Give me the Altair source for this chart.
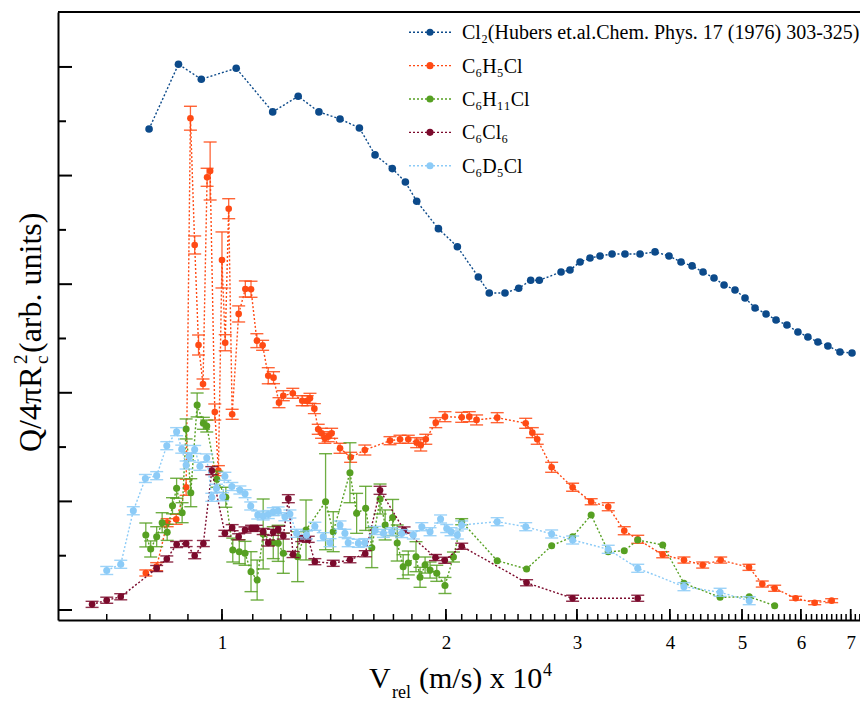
import altair as alt
import pandas as pd

# Relative velocity (x 10^4 m/s) and Q/4piRc^2 (arbitrary units) for each target.
CL2_V = [0.798, 0.874, 0.938, 1.045, 1.170, 1.266, 1.350, 1.441, 1.530, 1.606, 1.694, 1.764,
         1.827, 1.954, 2.072, 2.211, 2.287, 2.401, 2.505, 2.600, 2.670, 2.856, 2.936, 3.029,
         3.124, 3.222, 3.344, 3.481, 3.647, 3.820, 3.989, 4.140, 4.284, 4.432, 4.585, 4.730,
         4.893, 5.047, 5.206, 5.386, 5.555, 5.746, 5.945, 6.131, 6.324, 6.523, 6.771, 7.028]
CL2_Q = [4.429, 5.025, 4.887, 4.988, 4.586, 4.730, 4.586, 4.521, 4.438, 4.190, 4.064, 3.941,
         3.763, 3.511, 3.345, 3.066, 2.919, 2.919, 2.962, 3.036, 3.036, 3.112, 3.131, 3.204,
         3.241, 3.260, 3.278, 3.278, 3.278, 3.297, 3.260, 3.204, 3.168, 3.112, 3.057, 2.993,
         2.947, 2.873, 2.781, 2.726, 2.670, 2.624, 2.560, 2.514, 2.468, 2.431, 2.376, 2.366]

BZ_V = [0.790, 0.817, 0.844, 0.868, 0.895, 0.907, 0.919, 0.930, 0.943, 0.955, 0.964, 0.978,
        0.989, 1.000, 1.010, 1.021, 1.032, 1.053, 1.075, 1.094, 1.114, 1.134, 1.154, 1.173,
        1.193, 1.209, 1.245, 1.282, 1.302, 1.313, 1.331, 1.347, 1.361, 1.375, 1.389, 1.404,
        1.441, 1.489, 1.556, 1.682, 1.735, 1.780, 1.827, 1.850, 1.879, 1.938, 1.994, 2.100,
        2.150, 2.199, 2.344, 2.560, 2.613, 2.653, 2.774, 2.960, 3.135, 3.305, 3.473, 3.621,
        3.912, 4.178, 4.427, 4.681, 5.109, 5.324, 5.532, 5.903, 6.261, 6.599]
BZ_Q = [0.341, 0.399, 0.804, 0.835, 1.130, 4.528, 3.361, 2.440, 2.081, 3.984, 4.042, 1.823,
        1.283, 3.223, 2.461, 3.695, 1.802, 2.726, 2.956, 2.953, 2.480, 2.437, 2.157, 2.139,
        1.909, 1.973, 1.995, 1.927, 1.927, 1.949, 1.854, 1.664, 1.627, 1.581, 1.596, 1.627,
        1.489, 1.406, 1.473, 1.559, 1.572, 1.572, 1.541, 1.519, 1.572, 1.725, 1.780, 1.774,
        1.780, 1.750, 1.771, 1.719, 1.633, 1.572, 1.314, 1.130, 0.997, 0.951, 0.730, 0.651,
        0.509, 0.460, 0.414, 0.460, 0.393, 0.239, 0.200, 0.108, 0.067, 0.086]
BZ_ERR = [0.028, 0.037, 0.037, 0.046, 0.074, 0.110, 0.083, 0.092, 0.046, 0.083, 0.267, 0.074,
          0.046, 0.258, 0.074, 0.092, 0.046, 0.074, 0.074, 0.074, 0.064, 0.046, 0.074, 0.055,
          0.046, 0.046, 0.046, 0.046, 0.046, 0.046, 0.046, 0.046, 0.046, 0.046, 0.046, 0.046,
          0.046, 0.046, 0.046, 0.037, 0.037, 0.037, 0.046, 0.055, 0.046, 0.046, 0.046, 0.046,
          0.046, 0.046, 0.046, 0.046, 0.046, 0.046, 0.046, 0.037, 0.028, 0.037, 0.037, 0.037,
          0.028, 0.028, 0.028, 0.028, 0.028, 0.028, 0.028, 0.018, 0.018, 0.018]

CY_V = [0.790, 0.802, 0.817, 0.831, 0.844, 0.858, 0.869, 0.884, 0.895, 0.908, 0.926, 0.944,
        0.954, 0.984, 1.012, 1.034, 1.055, 1.074, 1.094, 1.115, 1.136, 1.172, 1.190, 1.209,
        1.264, 1.297, 1.378, 1.411, 1.486, 1.517, 1.560, 1.590, 1.631, 1.657, 1.696, 1.720,
        1.752, 1.780, 1.823, 1.846, 1.875, 1.904, 1.944, 1.994, 2.047, 2.100, 2.344, 2.567,
        2.774, 2.960, 3.135, 3.305, 3.473, 3.621, 3.912, 4.178, 4.672, 5.113, 5.532]
CY_Q = [0.691, 0.562, 0.675, 0.804, 0.715, 0.960, 1.121, 0.896, 1.667, 1.080, 1.888, 1.719,
        1.694, 1.204, 1.038, 0.552, 0.537, 0.522, 0.353, 0.276, 0.700, 0.620, 0.614, 0.522,
        0.491, 0.737, 0.997, 0.721, 1.264, 0.890, 0.936, 0.574, 1.022, 0.783, 0.852, 0.617,
        0.399, 0.433, 0.491, 0.301, 0.414, 0.368, 0.338, 0.226, 0.488, 0.813, 0.454, 0.378,
        0.592, 0.675, 0.875, 0.537, 0.546, 0.645, 0.599, 0.246, 0.117, 0.122, 0.040]
CY_ERR = [0.110, 0.074, 0.092, 0.092, 0.074, 0.074, 0.092, 0.092, 0.092, 0.129, 0.110, 0.055,
          0.055, 0.074, 0.092, 0.110, 0.110, 0.110, 0.184, 0.184, 0.322, 0.147, 0.166, 0.184,
          0.230, 0.276, 0.442, 0.184, 0.276, 0.184, 0.203, 0.184, 0.138, 0.138, 0.166, 0.166,
          0.110, 0.110, 0.138, 0.092, 0.074, 0.074, 0.074, 0.074, 0.046, 0.028, 0.0, 0.0,
          0.0, 0.0, 0.0, 0.0, 0.0, 0.0, 0.0, 0.0, 0.0, 0.0, 0.0]

HC_V = [0.669, 0.700, 0.731, 0.817, 0.843, 0.869, 0.895, 0.919, 0.944, 0.969, 1.009, 1.032,
        1.053, 1.074, 1.096, 1.112, 1.136, 1.154, 1.172, 1.190, 1.209, 1.228, 1.246, 1.280,
        1.306, 1.333, 1.411, 1.486, 1.558, 1.631, 1.757, 1.936, 1.993, 2.100, 2.567, 2.960,
        3.621]
HC_Q = [0.052, 0.090, 0.122, 0.382, 0.470, 0.603, 0.612, 0.500, 0.612, 1.283, 0.706, 0.758,
        0.674, 0.737, 0.752, 0.752, 0.723, 0.617, 0.715, 0.743, 0.681, 1.025, 0.511, 0.658,
        0.651, 0.445, 0.430, 0.463, 0.518, 1.102, 0.737, 0.483, 0.458, 0.587, 0.251, 0.108,
        0.108]
HC_ERR = [0.028, 0.028, 0.028, 0.028, 0.028, 0.028, 0.028, 0.028, 0.028, 0.037, 0.028, 0.028,
          0.028, 0.028, 0.028, 0.028, 0.028, 0.028, 0.028, 0.028, 0.028, 0.037, 0.028, 0.028,
          0.028, 0.028, 0.028, 0.028, 0.028, 0.037, 0.028, 0.028, 0.028, 0.028, 0.028, 0.028,
          0.028]

DZ_V = [0.700, 0.731, 0.760, 0.789, 0.817, 0.843, 0.869, 0.883, 0.895, 0.904, 0.919, 0.934,
        0.954, 0.969, 0.983, 1.002, 1.009, 1.031, 1.057, 1.074, 1.093, 1.117, 1.136, 1.154,
        1.172, 1.190, 1.215, 1.234, 1.260, 1.299, 1.333, 1.368, 1.397, 1.441, 1.463, 1.478,
        1.525, 1.556, 1.606, 1.648, 1.691, 1.744, 1.808, 1.856, 1.904, 1.967, 2.005, 2.032,
        2.072, 2.100, 2.344, 2.560, 2.774, 2.960, 3.305, 3.621, 4.178, 4.672, 5.113]
DZ_Q = [0.364, 0.421, 0.914, 1.211, 1.237, 1.513, 1.642, 1.481, 1.335, 1.412, 1.478, 1.323,
        1.400, 1.038, 1.121, 1.043, 1.231, 1.137, 1.105, 1.071, 0.958, 0.875, 0.866, 0.879,
        0.905, 0.912, 0.859, 0.884, 0.706, 0.691, 0.771, 0.675, 0.620, 0.783, 0.706, 0.620,
        0.614, 0.620, 0.732, 0.706, 0.721, 0.704, 0.691, 0.767, 0.721, 0.838, 0.750, 0.721,
        0.691, 0.783, 0.813, 0.767, 0.700, 0.645, 0.559, 0.384, 0.215, 0.163, 0.086]
DZ_ERR = [0.037, 0.037, 0.037, 0.037, 0.037, 0.037, 0.037, 0.037, 0.037, 0.037, 0.037, 0.037,
          0.037, 0.037, 0.037, 0.037, 0.037, 0.037, 0.037, 0.037, 0.037, 0.037, 0.037, 0.037,
          0.037, 0.037, 0.037, 0.037, 0.037, 0.037, 0.037, 0.037, 0.037, 0.037, 0.037, 0.037,
          0.037, 0.037, 0.037, 0.037, 0.037, 0.037, 0.037, 0.037, 0.037, 0.037, 0.037, 0.037,
          0.037, 0.037, 0.037, 0.037, 0.037, 0.037, 0.037, 0.037, 0.037, 0.037, 0.037]

LABELS = ["Cl₂(Hubers et.al.Chem. Phys. 17 (1976) 303-325)",
          "C₆H₅Cl", "C₆H₁₁Cl", "C₆Cl₆", "C₆D₅Cl"]
COLORS = ["#0C4A8A", "#FF4A14", "#56A022", "#7B0A2C", "#8CCBF7"]
DOT_SIZE = [58, 44, 50, 44, 50]

X_LABELS = [1, 2, 3, 4, 5, 6, 7]
X_MINOR = [round(0.1 * k, 1) for k in range(7, 73)]
Y_MAJOR = [0, 1, 2, 3, 4, 5]
Y_MINOR = [0.5, 1.5, 2.5, 3.5, 4.5]

W, H = 802, 608
FONT = "Liberation Serif"

XS = alt.Scale(type="log", domain=[0.602, 7.204], nice=False)
YS = alt.Scale(domain=[-0.092, 5.506], nice=False, zero=False)
X_AXIS = alt.Axis(values=X_LABELS, format="d", ticks=False, tickSize=0, labelPadding=13,
                  labelFontSize=19, labelColor="black", labelFont=FONT, labelFlush=False,
                  domainColor="black", domainWidth=2, grid=False, title=None)
Y_AXIS = alt.Axis(ticks=False, tickSize=0, labels=False, domainColor="black", domainWidth=2,
                  grid=False, title=None)


def ex(field):
    return alt.X(f"{field}:Q", scale=XS, axis=X_AXIS)


def ey(field):
    return alt.Y(f"{field}:Q", scale=YS, axis=Y_AXIS)


def series_layers(v, q, err, color, dot):
    df = pd.DataFrame({"v": v, "q": q})
    layers = []
    if err is not None:
        df["lo"] = [a - e for a, e in zip(q, err)]
        df["hi"] = [a + e for a, e in zip(q, err)]
        df["e"] = err
        bars = alt.Chart(df).transform_filter("datum.e > 0")
        layers += [
            bars.mark_rule(color=color, strokeWidth=1.3, opacity=0.85).encode(
                x=ex("v"), y=ey("lo"), y2="hi:Q"),
            bars.mark_tick(orient="horizontal", color=color, size=13, thickness=1.4,
                           opacity=0.85).encode(x=ex("v"), y=ey("lo")),
            bars.mark_tick(orient="horizontal", color=color, size=13, thickness=1.4,
                           opacity=0.85).encode(x=ex("v"), y=ey("hi")),
        ]
    base = alt.Chart(df)
    layers += [
        base.mark_line(color=color, strokeDash=[2, 2], strokeWidth=1.4).encode(
            x=ex("v"), y=ey("q")),
        base.mark_circle(color=color, size=dot, opacity=1).encode(x=ex("v"), y=ey("q")),
    ]
    return layers


def text_piece(txt, x, y, size, angle=0, align="left", baseline="alphabetic"):
    return alt.Chart(pd.DataFrame({"_": [0]})).mark_text(
        text=txt, font=FONT, fontSize=size, angle=angle, align=align,
        baseline=baseline, color="black").encode(x=alt.value(x), y=alt.value(y))


one = pd.DataFrame({"_": [0]})

# frame: top edge and inward ticks
frame = [
    alt.Chart(one).mark_rule(color="black", strokeWidth=2).encode(
        x=alt.value(0), x2=alt.value(W), y=alt.value(0)),
    alt.Chart(pd.DataFrame({"v": X_MINOR})).mark_rule(color="black", strokeWidth=1.5).encode(
        x=ex("v"), y=alt.value(H), y2=alt.value(H - 6)),
    alt.Chart(pd.DataFrame({"v": X_LABELS})).mark_rule(color="black", strokeWidth=1.8).encode(
        x=ex("v"), y=alt.value(H), y2=alt.value(H - 11)),
    alt.Chart(pd.DataFrame({"q": Y_MAJOR})).mark_rule(color="black", strokeWidth=2).encode(
        y=ey("q"), x=alt.value(0), x2=alt.value(14)),
    alt.Chart(pd.DataFrame({"q": Y_MINOR})).mark_rule(color="black", strokeWidth=2).encode(
        y=ey("q"), x=alt.value(0), x2=alt.value(8)),
]

data_layers = []
order = [(CL2_V, CL2_Q, None, 0), (BZ_V, BZ_Q, BZ_ERR, 1), (CY_V, CY_Q, CY_ERR, 2),
         (HC_V, HC_Q, HC_ERR, 3), (DZ_V, DZ_Q, DZ_ERR, 4)]
for v, q, err, i in order:
    data_layers += series_layers(v, q, err, COLORS[i], DOT_SIZE[i])

# axis titles with sub/superscripts
titles = [
    text_piece("V", 311, 676, 30),
    text_piece("rel", 334, 686, 18),
    text_piece("(m/s) x 10", 361, 676, 30),
    text_piece("4", 485, 664, 18),
    text_piece("Q/4πR", -17, 440, 32, angle=270),
    text_piece("2", -31, 352, 19, angle=270),
    text_piece("c", -10, 352, 19, angle=270),
    text_piece("(arb. units)", -17, 341, 32, angle=270),
]

plot = alt.layer(*frame, *data_layers, *titles)

# legend
leg_df = pd.DataFrame({"name": LABELS, "color": COLORS, "row": list(range(len(LABELS)))})
ROW = alt.Y("row:Q", scale=alt.Scale(domain=[0, 4], range=[20.3, 153.7]), axis=None)
leg_base = alt.Chart(leg_df)
legend = alt.layer(
    leg_base.mark_rule(strokeDash=[2, 2], strokeWidth=1.4).encode(
        x=alt.value(351), x2=alt.value(394), y=ROW, color=alt.Color("color:N", scale=None)),
    leg_base.mark_circle(size=50, opacity=1).encode(
        x=alt.value(372), y=ROW, color=alt.Color("color:N", scale=None)),
    leg_base.mark_text(align="left", baseline="middle", font=FONT, fontSize=20,
                       color="black", dy=1).encode(x=alt.value(404), y=ROW, text="name:N"),
)

chart = alt.layer(plot, legend).resolve_scale(y="independent").properties(
    width=W, height=H,
    autosize=alt.AutoSizeParams(type="none"),
    padding={"left": 58, "top": 12, "right": 0, "bottom": 82},
    background="white",
).configure(font=FONT).configure_view(strokeWidth=0)

chart.save("out.html", embed_options={"renderer": "svg", "actions": False})
